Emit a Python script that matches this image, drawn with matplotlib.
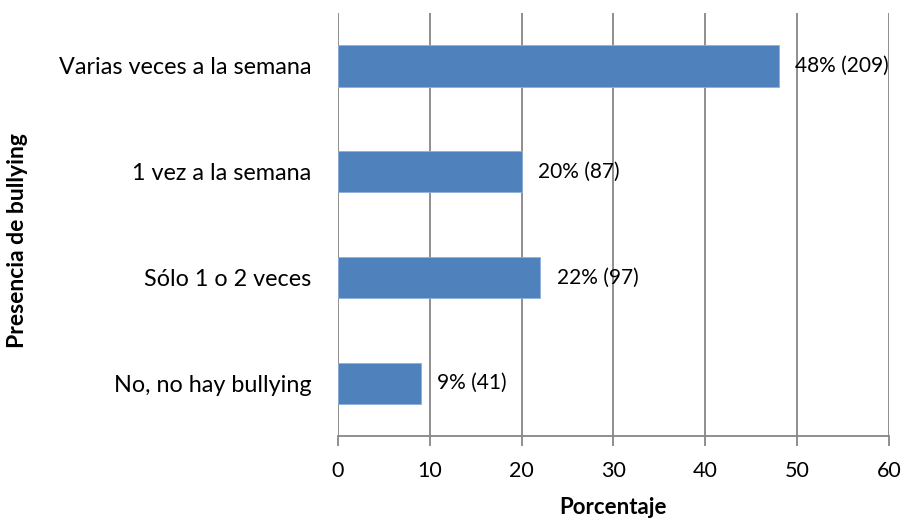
import matplotlib.pyplot as plt

# bullying frequency, percent and count
categorias = ['No, no hay bullying', 'Sólo 1 o 2 veces', '1 vez a la semana', 'Varias veces a la semana']
porcentajes = [9, 22, 20, 48]
conteos = [41, 97, 87, 209]
ticks_x = [0, 10, 20, 30, 40, 50, 60]

plt.rcParams['font.family'] = ['Lato', 'DejaVu Sans']

fig = plt.figure(figsize=(9.05, 5.23), dpi=100)
ax = fig.add_axes([0.3735, 0.1663, 0.6088, 0.8087])

ax.barh(range(len(categorias)), porcentajes, height=0.39, color='#4F81BD',
        edgecolor='#8EB0DA', linewidth=0.6, zorder=3)

for i, (p, c) in enumerate(zip(porcentajes, conteos)):
    ax.annotate(f'{p}% ({c})', xy=(p, i), xytext=(12, 0), textcoords='offset points',
                va='center', ha='left', fontsize=15, zorder=4)

ax.set_xlim(0, 60)
ax.set_ylim(-0.5, len(categorias) - 0.5)
ax.set_xticks(ticks_x)
ax.set_yticks(range(len(categorias)))
ax.set_yticklabels(categorias)
ax.grid(axis='x', color='#868686', linewidth=1.3, zorder=0)

for s in ['top', 'right', 'left']:
    ax.spines[s].set_visible(False)
ax.spines['bottom'].set_color('#868686')
ax.spines['bottom'].set_linewidth(1.3)
ax.tick_params(axis='x', direction='out', length=7, width=1.3, color='#868686',
               labelsize=15.5, pad=11)
ax.tick_params(axis='y', length=0, labelsize=16.8, pad=19)

ax.set_xlabel('Porcentaje', fontsize=16, fontweight='bold')
ax.set_ylabel('Presencia de bullying', fontsize=16.5, fontweight='bold')
ax.xaxis.set_label_coords(0.5, -0.145)
ax.yaxis.set_label_coords(-0.562, 0.463)

fig.savefig('out.png', dpi=100)
